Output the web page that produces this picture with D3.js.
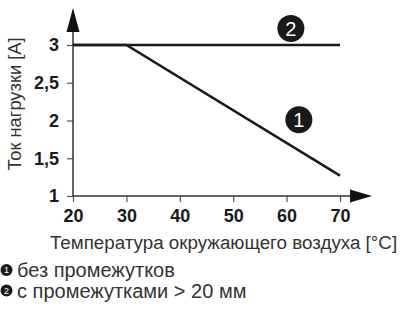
<!DOCTYPE html>
<html>
<head>
<meta charset="utf-8">
<script src="https://cdn.jsdelivr.net/npm/d3@7"></script>
<style>
  body { margin: 0; background: #fff; }
  svg { display: block; font-family: "Liberation Sans", Arial, sans-serif; }
</style>
</head>
<body>
<svg width="408" height="311"></svg>
<script>
let temps = [20, 30, 70];
let curve1 = [3, 3, 1.27];   // без промежутков
let curve2 = [3, 3, 3];      // с промежутками > 20 мм
let xTicks = [20, 30, 40, 50, 60, 70];
let yTicks = [1, 1.5, 2, 2.5, 3];
let legendLabels = ["без промежутков", "с промежутками > 20 мм"];

let svg = d3.select("svg");

let x = d3.scaleLinear().domain([20, 70]).range([73, 340]);
let y = d3.scaleLinear().domain([1, 3]).range([196, 45]);

// axes
let yAxis = d3.axisLeft(y).tickValues(yTicks).tickSize(6).tickPadding(6)
  .tickFormat(d => String(d).replace(".", ","));
let xAxis = d3.axisBottom(x).tickValues(xTicks).tickSize(6).tickPadding(6);

let gy = svg.append("g").attr("transform", "translate(" + x(20) + ",0)").call(yAxis);
let gx = svg.append("g").attr("transform", "translate(0," + y(1) + ")").call(xAxis);

[gx, gy].forEach(g => {
  g.select(".domain").remove();
  g.selectAll(".tick line").attr("stroke", "#555").attr("stroke-width", 1.2);
  g.selectAll(".tick text")
    .attr("fill", "#1a1a1a")
    .attr("font-size", "18px")
    .attr("font-weight", "bold")
    .attr("font-family", "Liberation Sans, Arial, sans-serif");
});
gy.selectAll(".tick text").attr("dx", "-2");
gx.selectAll(".tick text").attr("dy", "0.8em");

// axis lines with arrows
svg.append("line")
  .attr("x1", x(20)).attr("y1", y(1)).attr("x2", x(20)).attr("y2", 25)
  .attr("stroke", "#333").attr("stroke-width", 1.5);
svg.append("path")
  .attr("d", "M" + x(20) + ",8 L" + (x(20) + 6.5) + ",32 L" + (x(20) - 6.5) + ",32 Z")
  .attr("fill", "#111");
svg.append("line")
  .attr("x1", x(20)).attr("y1", y(1)).attr("x2", 355).attr("y2", y(1))
  .attr("stroke", "#333").attr("stroke-width", 1.5);
svg.append("path")
  .attr("d", "M372," + y(1) + " L350," + (y(1) - 6.5) + " L350," + (y(1) + 6.5) + " Z")
  .attr("fill", "#111");

// data lines
let line = d3.line()
  .x((d, i) => x(temps[i]))
  .y(d => y(d));

svg.append("path")
  .datum(curve2)
  .attr("d", line)
  .attr("fill", "none")
  .attr("stroke", "#1a1a1a")
  .attr("stroke-width", 2.5);

svg.append("path")
  .datum(curve1)
  .attr("d", line)
  .attr("fill", "none")
  .attr("stroke", "#1a1a1a")
  .attr("stroke-width", 2.5);

// numbered markers
let markers = [
  { n: "1", t: 62.3, v: 2.01 },
  { n: "2", t: 60.8, v: 3.22 }
];
let mg = svg.selectAll("g.marker")
  .data(markers)
  .enter()
  .append("g")
  .attr("class", "marker")
  .attr("transform", d => "translate(" + x(d.t) + "," + y(d.v) + ")");
mg.append("circle").attr("r", 13.5).attr("fill", "#1a1a1a");
mg.append("text")
  .text(d => d.n)
  .attr("text-anchor", "middle")
  .attr("dy", "0.36em")
  .attr("fill", "#fff")
  .attr("font-size", "20px");

// axis titles
svg.append("text")
  .text("Ток нагрузки [A]")
  .attr("transform", "translate(21,104) rotate(-90)")
  .attr("text-anchor", "middle")
  .attr("fill", "#333")
  .attr("font-size", "18.3px");

svg.append("text")
  .text("Температура окружающего воздуха [°C]")
  .attr("x", 223.5)
  .attr("y", 249)
  .attr("text-anchor", "middle")
  .attr("fill", "#333")
  .attr("font-size", "18.8px");

// legend
let lg = svg.selectAll("g.legend")
  .data(legendLabels)
  .enter()
  .append("g")
  .attr("class", "legend")
  .attr("transform", (d, i) => "translate(6.5," + (270 + i * 20.5) + ")");
lg.append("circle").attr("r", 6).attr("fill", "#1a1a1a");
lg.append("text")
  .text((d, i) => i + 1)
  .attr("text-anchor", "middle")
  .attr("dy", "0.36em")
  .attr("fill", "#fff")
  .attr("font-size", "9px");
lg.append("text")
  .text(d => d)
  .attr("x", 10.5)
  .attr("dy", "0.36em")
  .attr("fill", "#333")
  .attr("font-size", "20px");
</script>
</body>
</html>
